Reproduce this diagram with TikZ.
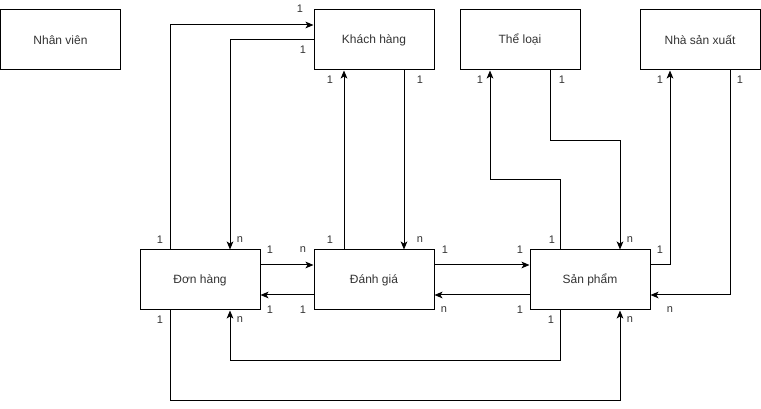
\documentclass[tikz,border=0pt]{standalone}
\usepackage{fontspec}
\setmainfont{Liberation Sans}
\usetikzlibrary{arrows.meta}
\begin{document}
\begin{tikzpicture}[x=0.75pt,y=-0.75pt,
  ent/.style={draw,line width=0.75pt,minimum width=90pt,minimum height=45pt,inner sep=0pt,font=\fontsize{9}{10}\selectfont,text=black!80},
  arr/.style={line width=0.75pt,-{Stealth[length=6pt,width=5pt,inset=1.5pt]}},
  lbl/.style={inner sep=0pt,font=\fontsize{8.25}{9}\selectfont,text=black!80}]
\useasboundingbox (0,0) rectangle (761,409);
\node[ent] (nv) at (60.5,40) {Nhân viên};
\node[ent] (kh) at (374,40) {Khách hàng};
\node[ent] (tl) at (520,40) {Thể loại};
\node[ent] (nsx) at (700,40) {Nhà sản xuất};
\node[ent] (dh) at (200,280) {Đơn hàng};
\node[ent] (dg) at (374,280) {Đánh giá};
\node[ent] (sp) at (590,280) {Sản phẩm};
% connectors
\draw[arr] ([xshift=-22.5pt]dh.north) |- ([yshift=11.25pt]kh.west);
\draw[arr] (kh.west) -| ([xshift=22.5pt]dh.north);
\draw[arr] ([xshift=-22.5pt]dg.north) -- ([xshift=-22.5pt]kh.south);
\draw[arr] ([xshift=22.5pt]kh.south) -- ([xshift=22.5pt]dg.north);
\draw[arr] ([yshift=11.25pt]dh.east) -- ([yshift=11.25pt]dg.west);
\draw[arr] ([yshift=-11.25pt]dg.west) -- ([yshift=-11.25pt]dh.east);
\draw[arr] ([yshift=11.25pt]dg.east) -- ([yshift=11.25pt]sp.west);
\draw[arr] ([yshift=-11.25pt]sp.west) -- ([yshift=-11.25pt]dg.east);
\draw[arr] ([xshift=-22.5pt]sp.north) -- ++(0,-70) -| ([xshift=-22.5pt]tl.south);
\draw[arr] ([xshift=22.5pt]tl.south) -- ++(0,70) -| ([xshift=22.5pt]sp.north);
\draw[arr] ([yshift=11.25pt]sp.east) -| ([xshift=-22.5pt]nsx.south);
\draw[arr] ([xshift=22.5pt]nsx.south) |- ([yshift=-11.25pt]sp.east);
\draw[arr] ([xshift=-22.5pt]sp.south) -- ++(0,50) -| ([xshift=22.5pt]dh.south);
\draw[arr] ([xshift=-22.5pt]dh.south) -- ++(0,90) -| ([xshift=22.5pt]sp.south);
% labels
\node[lbl] (a1) at (160,240) {1};
\node[lbl] (a2) at (300,9) {1};
\node[lbl] (a3) at (303,50) {1};
\node[lbl] (a4) at (240,240) {n};
\node[lbl] (a5) at (330,80) {1};
\node[lbl] (a6) at (330,240) {1};
\node[lbl] (a7) at (420,80) {1};
\node[lbl] (a8) at (420,240) {n};
\node[lbl] (a9) at (270,250) {1};
\node[lbl] (a10) at (303,250) {n};
\node[lbl] (a11) at (270,310) {1};
\node[lbl] (a12) at (303,310) {1};
\node[lbl] (a13) at (445,250) {1};
\node[lbl] (a14) at (520,250) {1};
\node[lbl] (a15) at (444,310) {n};
\node[lbl] (a16) at (520,310) {1};
\node[lbl] (a17) at (552,240) {1};
\node[lbl] (a18) at (480,80) {1};
\node[lbl] (a19) at (562,80) {1};
\node[lbl] (a20) at (630,240) {n};
\node[lbl] (a21) at (660,250) {1};
\node[lbl] (a22) at (660,80) {1};
\node[lbl] (a23) at (740,80) {1};
\node[lbl] (a24) at (670,310) {n};
\node[lbl] (a25) at (551,320) {1};
\node[lbl] (a26) at (240,320) {n};
\node[lbl] (a27) at (160,320) {1};
\node[lbl] (a28) at (630,320) {n};
\end{tikzpicture}
\end{document}
